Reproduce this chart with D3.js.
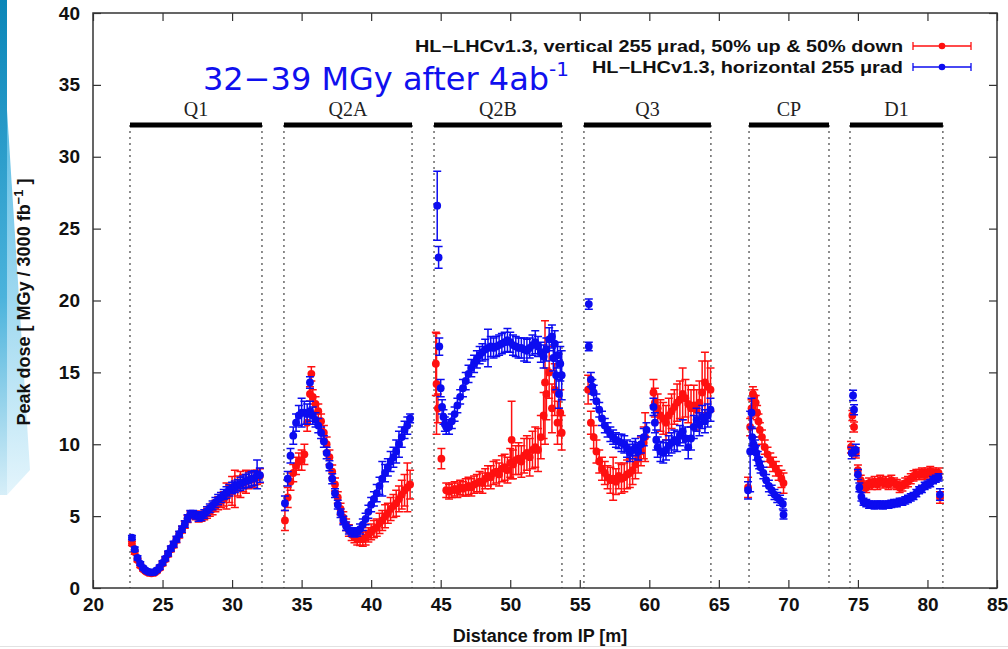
<!DOCTYPE html>
<html><head><meta charset="utf-8">
<script src="https://cdn.jsdelivr.net/npm/d3@7"></script>
<style>body{margin:0;background:#fff}svg{display:block}</style>
</head><body>
<svg id="c" width="1008" height="649"></svg>
<script>
// ---------- data ----------
const xTicks = [20,25,30,35,40,45,50,55,60,65,70,75,80,85];
const yTicks = [0,5,10,15,20,25,30,35,40];
const sectionNames = ["Q1","Q2A","Q2B","Q3","CP","D1"];
const sectionStart = [22.66,33.73,44.52,55.30,67.17,74.43];
const sectionEnd   = [32.15,42.94,53.72,64.43,72.92,81.11];
const legendLabels = ["HL\u2212LHCv1.3, vertical 255 \u03bcrad, 50% up & 50% down","HL\u2212LHCv1.3, horizontal 255 \u03bcrad"];

// [distance m, dose MGy, error]
const redQ1 = [[22.8,3.1,.15],[23.0,2.5,.15],[23.2,1.95,.12],[23.4,1.55,.12],[23.6,1.3,.12],[23.8,1.15,.12],[24.0,1.05,.12],[24.2,1.02,.12],[24.4,1.05,.12],[24.6,1.18,.12],[24.8,1.4,.15],[25.0,1.7,.15],[25.2,2.0,.15],[25.4,2.35,.18],[25.6,2.7,.18],[25.8,3.0,.2],[26.0,3.35,.2],[26.2,3.7,.22],[26.4,4.05,.22],[26.6,4.4,.25],[26.8,4.8,.25],[27.0,5.1,.25],[27.2,5.1,.25],[27.4,5.05,.3],[27.6,4.9,.3],[27.8,4.95,.3],[28.0,5.05,.3],[28.2,5.2,.35],[28.4,5.35,.35],[28.6,5.5,.4],[28.8,5.7,.4],[29.0,5.9,.45],[29.2,6.05,.45],[29.4,6.2,.5],[29.6,6.4,.9],[29.8,6.55,.6],[30.0,6.75,1.0],[30.2,6.9,1.3],[30.4,7.1,.7],[30.6,7.2,.9],[30.8,7.3,.6],[31.0,7.4,.8],[31.2,7.5,.6],[31.4,7.55,.5],[31.6,7.6,.6],[31.8,7.7,.5],[32.0,7.8,.5]];
const blueQ1 = [[22.8,3.5,.15],[23.0,2.7,.15],[23.2,2.1,.15],[23.4,1.7,.12],[23.6,1.4,.12],[23.8,1.22,.12],[24.0,1.12,.12],[24.2,1.08,.12],[24.4,1.1,.12],[24.6,1.25,.12],[24.8,1.45,.15],[25.0,1.75,.15],[25.2,2.05,.15],[25.4,2.4,.18],[25.6,2.75,.18],[25.8,3.05,.2],[26.0,3.4,.2],[26.2,3.75,.2],[26.4,4.1,.22],[26.6,4.45,.22],[26.8,4.85,.25],[27.0,5.15,.25],[27.2,5.15,.25],[27.4,5.05,.25],[27.6,4.95,.3],[27.8,5.0,.3],[28.0,5.15,.3],[28.2,5.35,.3],[28.4,5.55,.3],[28.6,5.75,.3],[28.8,5.95,.35],[29.0,6.15,.35],[29.2,6.3,.35],[29.4,6.5,.35],[29.6,6.65,.4],[29.8,6.8,.4],[30.0,6.95,.4],[30.2,7.05,.4],[30.4,7.15,.4],[30.6,7.25,.45],[30.8,7.35,.45],[31.0,7.45,.45],[31.2,7.5,.5],[31.4,7.6,.5],[31.6,7.65,.5],[31.8,7.9,1.0],[32.0,7.85,.5]];
const redQ2A = [[33.8,4.7,.7],[34.0,6.3,.7],[34.2,7.4,.6],[34.4,8.0,.6],[34.6,8.5,.6],[34.8,8.8,.6],[35.0,8.9,.7],[35.2,9.3,.7],[35.4,11.5,.6],[35.6,13.5,.5],[35.7,14.9,.5],[35.8,13.3,.5],[36.0,12.8,.5],[36.2,12.3,.5],[36.4,11.6,.5],[36.6,10.8,.5],[36.8,10.0,.5],[37.0,9.1,.5],[37.2,8.1,.45],[37.4,7.2,.45],[37.6,6.3,.4],[37.8,5.5,.4],[38.0,4.9,.4],[38.2,4.4,.4],[38.4,4.0,.4],[38.6,3.7,.4],[38.8,3.55,.4],[39.0,3.45,.45],[39.2,3.4,.45],[39.4,3.4,.5],[39.6,3.5,.5],[39.8,3.7,.5],[40.0,3.9,.55],[40.2,4.1,.6],[40.4,4.2,.6],[40.6,4.5,.7],[40.8,4.7,.7],[41.0,5.0,.8],[41.2,5.2,.7],[41.4,5.5,.8],[41.6,5.7,.8],[41.8,5.9,.9],[42.0,6.2,.9],[42.2,6.5,1.0],[42.4,6.8,1.1],[42.6,7.0,1.7],[42.8,7.2,1.0]];
const blueQ2A = [[33.8,5.9,.5],[34.0,7.6,.5],[34.2,9.2,.5],[34.4,10.6,.6],[34.6,11.5,.6],[34.8,12.0,.7],[35.0,12.2,1.0],[35.2,12.2,.8],[35.4,12.1,.7],[35.6,14.3,.4],[35.6,12.3,.7],[35.8,12.0,.6],[36.0,11.7,.5],[36.2,11.3,.5],[36.4,10.8,.4],[36.6,10.2,.4],[36.8,9.4,.4],[37.0,8.5,.35],[37.2,7.6,.35],[37.4,6.6,.3],[37.6,5.8,.3],[37.8,5.2,.3],[38.0,4.7,.3],[38.2,4.3,.3],[38.4,4.05,.3],[38.6,3.9,.3],[38.8,3.85,.3],[39.0,3.9,.3],[39.2,4.1,.35],[39.4,4.4,.4],[39.6,4.8,.4],[39.8,5.3,.45],[40.0,5.8,.5],[40.2,6.2,.5],[40.4,6.6,.6],[40.6,7.1,.6],[40.8,7.6,1.2],[41.0,8.0,.6],[41.2,8.4,.6],[41.4,8.8,.7],[41.6,9.1,.7],[41.8,9.5,.8],[42.0,10.0,.9],[42.2,10.5,.7],[42.4,11.0,.6],[42.6,11.3,.6],[42.8,11.8,.3]];
const redQ2B = [[44.65,15.6,2.2],[44.7,14.2,3.5],[44.8,12.5,1.0],[45.05,9.0,.7],[45.4,6.8,.5],[45.6,6.7,.5],[45.8,6.8,.5],[46.0,6.9,.5],[46.2,6.8,.5],[46.4,7.0,.5],[46.6,6.9,.5],[46.8,7.0,.6],[47.0,7.1,.6],[47.2,7.0,.6],[47.4,7.2,.6],[47.6,7.3,.6],[47.8,7.4,.7],[48.0,7.3,.7],[48.2,7.6,.7],[48.4,7.8,.7],[48.6,7.7,.8],[48.8,8.0,.8],[49.0,8.1,.8],[49.2,7.9,.8],[49.4,8.3,.9],[49.6,8.4,.9],[49.8,8.2,.9],[50.0,8.7,1.0],[50.1,10.3,2.7],[50.2,8.6,1.0],[50.4,8.9,1.0],[50.6,9.0,1.1],[50.8,8.8,1.1],[51.0,9.2,1.2],[51.2,9.4,1.2],[51.4,9.1,1.3],[51.6,9.6,1.3],[51.8,9.8,1.4],[52.0,9.6,1.5],[52.2,10.5,1.5],[52.4,12.0,1.6],[52.5,14.3,4.3],[52.6,13.5,1.8],[52.8,15.0,1.8],[53.0,12.5,1.7],[53.2,13.8,1.8],[53.4,11.5,1.5],[53.6,12.2,1.6],[53.7,10.8,1.2]];
const blueQ2B = [[44.75,26.6,2.4],[44.85,23.0,.75],[44.9,16.8,.6],[45.0,13.9,.6],[45.1,12.6,.5],[45.2,11.9,.5],[45.3,11.4,.5],[45.4,11.2,.5],[45.6,11.2,.5],[45.8,11.6,.5],[46.0,12.1,.5],[46.2,12.7,.5],[46.4,13.3,.5],[46.6,13.9,.6],[46.8,14.4,.6],[47.0,14.9,.6],[47.2,15.3,.6],[47.4,15.6,.6],[47.6,15.9,.6],[47.8,16.2,.6],[48.0,16.4,.6],[48.2,16.6,.7],[48.4,16.7,1.3],[48.6,16.8,.7],[48.8,16.7,.7],[49.0,16.8,.7],[49.2,16.9,.7],[49.4,17.0,.7],[49.6,17.1,.7],[49.8,17.25,.8],[50.0,17.1,.7],[50.2,16.9,.7],[50.4,16.8,.7],[50.6,16.7,.7],[50.8,16.7,.7],[51.0,16.6,.8],[51.2,16.5,.8],[51.4,16.7,.7],[51.6,16.9,.7],[51.8,17.1,.8],[52.0,16.8,.7],[52.2,16.4,.7],[52.4,16.1,.8],[52.6,16.6,.8],[52.8,17.3,.8],[53.0,17.5,.8],[53.1,16.0,.9],[53.2,17.0,.9],[53.3,14.8,1.0],[53.4,16.2,.9],[53.5,13.5,1.0],[53.6,15.6,1.2],[53.7,14.8,1.7]];
const redQ3 = [[55.6,13.8,1.0],[55.8,11.5,.8],[56.0,10.5,.8],[56.2,9.5,.8],[56.4,8.8,.8],[56.6,8.3,.8],[56.8,8.0,.8],[57.0,7.7,.8],[57.2,7.5,.9],[57.4,7.6,1.5],[57.6,7.4,.9],[57.8,7.8,.9],[58.0,7.6,1.0],[58.2,7.7,1.0],[58.4,7.9,1.0],[58.6,8.0,1.0],[58.8,8.2,1.0],[59.0,8.6,1.0],[59.2,9.0,1.0],[59.4,9.5,1.0],[59.6,10.1,1.1],[59.7,10.5,1.7],[60.3,13.6,.9],[60.4,12.9,1.0],[60.6,12.5,1.0],[60.8,12.0,1.1],[61.0,11.8,1.1],[61.2,11.5,1.2],[61.4,12.0,1.2],[61.6,12.3,1.2],[61.8,12.6,1.2],[62.0,12.9,1.3],[62.2,13.1,1.3],[62.4,13.5,1.8],[62.6,13.2,1.3],[62.8,12.8,1.3],[63.0,12.5,1.3],[63.2,12.7,1.4],[63.4,12.4,1.4],[63.6,12.9,1.5],[63.8,13.6,2.2],[64.0,14.3,2.1],[64.2,14.0,1.8],[64.4,13.8,1.5]];
const blueQ3 = [[55.65,19.75,.35],[55.65,16.8,.3],[55.8,14.5,.5],[55.9,14.0,.5],[56.0,13.6,.5],[56.2,13.0,.5],[56.4,12.4,.5],[56.6,11.8,.5],[56.8,11.3,.5],[57.0,11.0,.5],[57.2,10.7,.5],[57.4,10.5,.5],[57.6,10.3,.5],[57.8,10.2,.5],[58.0,10.1,.6],[58.2,10.0,.6],[58.4,9.7,.6],[58.6,9.4,.6],[58.8,9.6,.6],[59.0,9.8,.6],[59.2,9.5,.6],[59.4,10.0,.6],[59.6,10.5,.6],[59.8,11.0,.5],[60.3,12.6,.6],[60.4,11.5,.7],[60.5,10.3,.7],[60.6,9.8,.7],[60.8,9.5,.7],[61.0,9.4,.7],[61.2,9.6,.7],[61.4,9.9,.7],[61.6,10.1,.7],[61.8,10.3,.7],[62.0,10.2,.7],[62.2,10.6,.7],[62.4,10.9,.8],[62.6,10.4,.8],[62.8,9.8,.8],[63.0,10.4,.8],[63.2,11.2,.8],[63.4,11.7,.8],[63.6,11.4,.8],[63.8,11.9,.8],[64.0,11.6,.8],[64.2,12.0,.8],[64.4,12.4,.8]];
const redCP = [[67.1,7.0,.7],[67.25,11.2,.6],[67.35,12.5,.6],[67.45,13.5,.5],[67.55,13.3,.5],[67.65,12.9,.5],[67.75,12.2,.5],[67.85,11.6,.5],[67.95,11.0,.5],[68.1,10.5,.5],[68.3,9.8,.5],[68.5,9.3,.5],[68.7,8.9,.5],[68.9,8.6,.5],[69.1,8.3,.5],[69.3,8.0,.5],[69.5,7.6,.6],[69.65,7.3,.7]];
const blueCP = [[67.1,6.8,.6],[67.25,9.5,2.8],[67.35,12.2,1.0],[67.4,10.5,.6],[67.5,10.0,.5],[67.6,9.8,.5],[67.7,9.4,.5],[67.8,9.0,.5],[67.9,8.7,.4],[68.0,8.4,.4],[68.2,8.0,.4],[68.4,7.5,.4],[68.6,7.1,.4],[68.8,6.8,.35],[69.0,6.5,.35],[69.2,6.3,.35],[69.4,6.1,.35],[69.6,5.85,.35],[69.65,5.1,.3]];
const redD1 = [[74.5,9.8,.4],[74.6,12.0,.35],[74.72,11.2,.35],[74.85,9.4,.35],[75.0,8.2,.35],[75.2,7.5,.35],[75.4,7.1,.35],[75.6,7.0,.35],[75.8,7.3,.35],[76.0,7.2,.35],[76.2,7.4,.35],[76.4,7.2,.35],[76.6,7.5,.35],[76.8,7.3,.35],[77.0,7.4,.35],[77.2,7.2,.35],[77.4,7.5,.35],[77.6,7.3,.35],[77.8,7.2,.35],[78.0,7.0,.35],[78.2,7.1,.35],[78.4,7.3,.35],[78.6,7.4,.35],[78.8,7.6,.35],[79.0,7.8,.35],[79.2,7.9,.35],[79.4,7.9,.35],[79.6,8.0,.35],[79.8,7.9,.35],[80.0,8.0,.35],[80.2,8.1,.35],[80.4,8.0,.35],[80.6,7.9,.35],[80.8,8.0,.35],[80.9,6.3,.4]];
const blueD1 = [[74.55,9.4,.4],[74.65,13.4,.35],[74.72,12.4,.35],[74.85,9.6,.4],[75.0,7.9,.35],[75.1,7.0,.3],[75.25,6.35,.3],[75.4,6.0,.25],[75.6,5.9,.25],[75.8,5.8,.25],[76.0,5.8,.25],[76.2,5.75,.25],[76.4,5.8,.25],[76.6,5.8,.25],[76.8,5.75,.25],[77.0,5.8,.25],[77.2,5.8,.25],[77.4,5.85,.25],[77.6,5.9,.25],[77.8,5.9,.25],[78.0,6.0,.25],[78.2,6.0,.25],[78.4,6.1,.25],[78.6,6.2,.25],[78.8,6.3,.25],[79.0,6.4,.25],[79.2,6.6,.25],[79.4,6.8,.25],[79.6,6.9,.25],[79.8,7.1,.25],[80.0,7.2,.25],[80.2,7.3,.25],[80.4,7.5,.25],[80.6,7.6,.25],[80.8,7.7,.25],[80.9,6.5,.4]];

const redSeries = [].concat(redQ1, redQ2A, redQ2B, redQ3, redCP, redD1);
const blueSeries = [].concat(blueQ1, blueQ2A, blueQ2B, blueQ3, blueCP, blueD1);

// ---------- drawing ----------
const RED = "#ff1010", BLUE = "#0c0cf0";
const svg = d3.select("#c");
const W = 1008, H = 649;
const m = {l:93, r:997, t:13, b:588};
const x = d3.scaleLinear().domain([20,85]).range([m.l, m.r]);
const y = d3.scaleLinear().domain([0,40]).range([m.b, m.t]);

// slide decoration
const defs = svg.append("defs");
const g1 = defs.append("linearGradient").attr("id","band").attr("x1",0).attr("y1",0).attr("x2",0).attr("y2",1);
g1.append("stop").attr("offset","0%").attr("stop-color","#0b86b8");
g1.append("stop").attr("offset","60%").attr("stop-color","#4bb3dc");
g1.append("stop").attr("offset","100%").attr("stop-color","#d6eef8");
const g2 = defs.append("linearGradient").attr("id","swoosh").attr("x1",0).attr("y1",0).attr("x2",0).attr("y2",1);
g2.append("stop").attr("offset","0%").attr("stop-color","#5cbde4");
g2.append("stop").attr("offset","100%").attr("stop-color","#e4f5fc");
svg.append("polygon").attr("points","7,110 30,470 7,495").attr("fill","url(#swoosh)");
svg.append("rect").attr("x",0).attr("y",0).attr("width",7).attr("height",495).attr("fill","url(#band)");
svg.append("line").attr("x1",0).attr("x2",W).attr("y1",646.5).attr("y2",646.5).attr("stroke","#e2e2e2").attr("stroke-width",1);

// section dotted lines & bars
const barY = 125;
const secG = svg.append("g");
sectionNames.forEach((n,i) => {
  [sectionStart[i], sectionEnd[i]].forEach(v => {
    secG.append("line").attr("x1",x(v)).attr("x2",x(v)).attr("y1",barY).attr("y2",m.b)
      .attr("stroke","#333").attr("stroke-width",1.1).attr("stroke-dasharray","2,4");
  });
  secG.append("line").attr("x1",x(sectionStart[i])).attr("x2",x(sectionEnd[i])).attr("y1",barY).attr("y2",barY)
    .attr("stroke","#000").attr("stroke-width",5);
  secG.append("text").attr("x",(x(sectionStart[i])+x(sectionEnd[i]))/2).attr("y",barY-9)
    .attr("text-anchor","middle").attr("font-family","'Liberation Serif','Times New Roman',serif")
    .attr("font-size",20).attr("fill","#222").text(n);
});

// axes (gnuplot style inward ticks, mirrored)
const fontAx = "'Liberation Sans',Arial,sans-serif";
const axB = svg.append("g").attr("transform",`translate(0,${m.b})`)
  .call(d3.axisBottom(x).tickValues(xTicks).tickSizeInner(-8).tickSizeOuter(0).tickPadding(10).tickFormat(d3.format("d")));
const axT = svg.append("g").attr("transform",`translate(0,${m.t})`)
  .call(d3.axisTop(x).tickValues(xTicks).tickSizeInner(-8).tickSizeOuter(0).tickFormat(""));
const axL = svg.append("g").attr("transform",`translate(${m.l},0)`)
  .call(d3.axisLeft(y).tickValues(yTicks).tickSizeInner(-8).tickSizeOuter(0).tickPadding(13).tickFormat(d3.format("d")));
const axR = svg.append("g").attr("transform",`translate(${m.r},0)`)
  .call(d3.axisRight(y).tickValues(yTicks).tickSizeInner(-8).tickSizeOuter(0).tickFormat(""));
[axB,axT,axL,axR].forEach(a => {
  a.select(".domain").remove();
  a.selectAll("line").attr("stroke","#333").attr("stroke-width",1.2);
  a.selectAll("text").attr("font-family",fontAx).attr("font-weight","bold").attr("font-size",19).attr("fill","#111");
});
svg.append("rect").attr("x",m.l).attr("y",m.t).attr("width",m.r-m.l).attr("height",m.b-m.t)
  .attr("fill","none").attr("stroke","#333").attr("stroke-width",1.5);

// axis titles
svg.append("text").attr("x",540).attr("y",642).attr("text-anchor","middle")
  .attr("font-family",fontAx).attr("font-weight","bold").attr("font-size",18).attr("fill","#111")
  .text("Distance from IP [m]");
const yt = svg.append("text").attr("transform","translate(30,302) rotate(-90)").attr("text-anchor","middle")
  .attr("font-family",fontAx).attr("font-weight","bold").attr("font-size",18).attr("fill","#111");
yt.append("tspan").text("Peak dose [ MGy / 3000 fb");
yt.append("tspan").attr("dy",-7).attr("font-size",13).text("\u22121");
yt.append("tspan").attr("dy",7).text(" ]");

// error bar series
function drawSeries(data, color) {
  const g = svg.append("g");
  g.selectAll("path").data(data).join("path")
    .attr("d", d => {
      const px = x(d[0]), y1 = y(d[1]-d[2]), y2 = y(d[1]+d[2]);
      return `M${px},${y1}V${y2}M${px-4},${y1}h8M${px-4},${y2}h8`;
    })
    .attr("stroke", color).attr("stroke-width",1.5).attr("fill","none");
  g.selectAll("circle").data(data).join("circle")
    .attr("cx", d => x(d[0])).attr("cy", d => y(d[1])).attr("r",3.9).attr("fill",color);
}
drawSeries(redSeries, RED);
drawSeries(blueSeries, BLUE);

// legend
const legY = [46, 67];
[RED, BLUE].forEach((c,i) => {
  svg.append("text").attr("x",903).attr("y",legY[i]+5.5).attr("text-anchor","end")
    .attr("font-family",fontAx).attr("font-weight","bold").attr("font-size",16).attr("fill","#111")
    .attr("textLength", i===0?488:311).attr("lengthAdjust","spacingAndGlyphs")
    .text(legendLabels[i]);
  svg.append("path").attr("d",`M913,${legY[i]}H971M913,${legY[i]-4}v8M971,${legY[i]-4}v8`)
    .attr("stroke",c).attr("stroke-width",1.3).attr("fill","none");
  svg.append("circle").attr("cx",942).attr("cy",legY[i]).attr("r",3.3).attr("fill",c);
});

// annotation
const ann = svg.append("text").attr("x",203).attr("y",90)
  .attr("font-family","'DejaVu Sans',Verdana,sans-serif").attr("font-size",32).attr("fill","#1010ee");
ann.append("tspan").text("32\u221239 MGy after 4ab");
ann.append("tspan").attr("dy",-14).attr("font-size",20).text("-1");
</script>
</body></html>
